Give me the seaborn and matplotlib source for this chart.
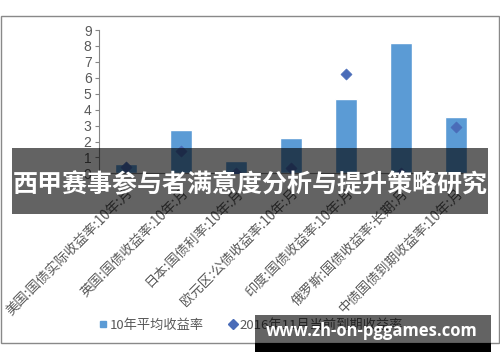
import matplotlib
matplotlib.use("Agg")
import matplotlib.pyplot as plt
import seaborn as sns
import pandas as pd
import numpy as np
from matplotlib.patches import Rectangle
from matplotlib.lines import Line2D

categories = ["美国:国债实际收益率:10年:月", "英国:国债收益率:10年:月", "日本:国债利率:10年:月",
              "欧元区:公债收益率:10年:月", "印度:国债收益率:10年:月", "俄罗斯:国债收益率:长期:月",
              "中债国债到期收益率:10年:月"]
avg_10y = [0.62, 2.75, 0.78, 2.25, 4.65, 8.18, 3.52]
current_2016 = [0.40, 1.40, 0.05, 0.35, 6.26, 0.05, 2.93]
series_names = ["10年平均收益率", "2016年11月当前到期收益率"]
title_text = "西甲赛事参与者满意度分析与提升策略研究"
watermark = "www.zh-on-pggames.com"

sns.set_theme(style="white")
plt.rcParams['font.family'] = ['Noto Sans CJK SC', 'DejaVu Sans']

df = pd.DataFrame({"cat": categories, "avg": avg_10y, "cur": current_2016})

fig = plt.figure(figsize=(5.0, 3.62), dpi=100)
ax = fig.add_axes([0.197, 0.521, 0.77, 0.396])

sns.barplot(data=df, x="cat", y="avg", color="#5b9bd5", width=0.39, ax=ax, saturation=1, zorder=2)
sns.scatterplot(data=df, x="cat", y="cur", marker="D", color="#4a6cb8", s=32, ax=ax,
                edgecolor="#4a6cb8", zorder=3)

ax.set_ylim(0, 9)
ax.set_xlim(-0.5, len(categories) - 0.5)
ax.set_yticks(range(0, 10))
ax.set_xlabel("")
ax.set_ylabel("")
for s in ["top", "right"]:
    ax.spines[s].set_visible(False)
ax.spines["left"].set_color("#868686")
ax.spines["bottom"].set_color("#868686")
ax.spines["left"].set_linewidth(0.8)
ax.spines["bottom"].set_linewidth(0.8)
ax.tick_params(axis="y", left=True, length=3, width=0.8, color="#868686", labelsize=10,
               labelcolor="#595959", pad=2)
ax.tick_params(axis="x", bottom=False, labelsize=9.6, labelcolor="#595959", pad=3)
for lab in ax.get_xticklabels():
    lab.set_rotation(45)
    lab.set_ha("right")
    lab.set_va("top")
    lab.set_rotation_mode("anchor")
for lab in ax.get_yticklabels():
    lab.set_family(["Liberation Sans", "DejaVu Sans"])

# outer frame
fig.patches.append(Rectangle((0.002, 0.0525), 0.996, 0.903, transform=fig.transFigure,
                             fill=False, edgecolor="#898989", linewidth=1.0, zorder=0))

# legend
handles = [Line2D([], [], marker="s", linestyle="none", color="#5b9bd5", markersize=5),
           Line2D([], [], marker="D", linestyle="none", color="#4a6cb8", markersize=5.5)]
fig.legend(handles, series_names, loc="center", bbox_to_anchor=(0.502, 0.102), ncol=2,
           frameon=False, handlelength=0.6, handletextpad=0.2, columnspacing=1.9,
           prop={"size": 9.5, "family": ["Noto Sans CJK SC", "DejaVu Sans"]},
           labelcolor="#595959")

# title overlay band
fig.patches.append(Rectangle((0.024, 0.409), 0.952, 0.182, transform=fig.transFigure,
                             facecolor="black", alpha=0.61, edgecolor="none", zorder=10))
fig.text(0.5, 0.489, title_text, color="white", fontsize=18, fontweight="bold",
         ha="center", va="center", zorder=11, family=["Noto Sans CJK SC", "DejaVu Sans"])

# watermark band
fig.patches.append(Rectangle((0.51, 0.0525), 0.472, 0.077, transform=fig.transFigure,
                             facecolor="black", alpha=0.61, edgecolor="none", zorder=10))
fig.patches.append(Rectangle((0.51, 0.0276), 0.472, 0.0249, transform=fig.transFigure,
                             facecolor="black", edgecolor="none", zorder=10))
fig.text(0.744, 0.087, watermark, color="white", fontsize=12, fontweight="bold",
         ha="center", va="center", zorder=11, family=["Open Sans", "DejaVu Sans"])

fig.savefig("out.png", dpi=100)
